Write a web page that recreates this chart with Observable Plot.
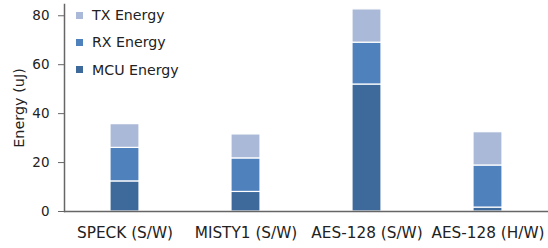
<!DOCTYPE html>
<html>
<head>
<meta charset="utf-8">
<script src="https://cdn.jsdelivr.net/npm/d3@7"></script>
<script src="https://cdn.jsdelivr.net/npm/@observablehq/plot@0.6"></script>
<style>
  html, body { margin: 0; padding: 0; background: #fff; }
  #wrap { position: relative; width: 548px; height: 248px; font-family: "DejaVu Sans", sans-serif; }
  #legend { position: absolute; left: 76px; top: 1.5px; font-size: 14.2px; color: #222; }
  #legend .row { height: 27.3px; display: flex; align-items: center; }
  #legend .sw { width: 7px; height: 7px; margin-right: 9px; }
</style>
</head>
<body>
<div id="wrap"></div>
<script>
const categories = ["SPECK (S/W)", "MISTY1 (S/W)", "AES-128 (S/W)", "AES-128 (H/W)"];
const series = ["MCU Energy", "RX Energy", "TX Energy"];
const mcu = [12.3, 8.0, 51.9, 1.6];
const rx = [13.7, 13.7, 17.1, 17.2];
const tx = [9.7, 9.8, 13.6, 13.6];
const colors = ["#3e6a9b", "#4f81bd", "#aab9d7"];
const yTicks = [0, 20, 40, 60, 80];
const yLabel = "Energy (uJ)";

const values = [mcu, rx, tx];
const data = [];
categories.forEach((c, i) => {
  series.forEach((s, j) => data.push({category: c, series: s, value: values[j][i]}));
});

const chart = Plot.plot({
  width: 548,
  height: 248,
  marginLeft: 64,
  marginRight: 0,
  marginTop: 4,
  marginBottom: 37,
  style: {fontFamily: "DejaVu Sans, sans-serif", fontSize: "13px", color: "#222"},
  x: {domain: categories, paddingInner: 0.76, paddingOuter: 0.38, label: null},
  y: {domain: [0, 84.6], label: null},
  color: {domain: series, range: colors},
  marks: [
    Plot.barY(data, {x: "category", y: "value", fill: "series", stroke: "white", strokeWidth: 1.2}),
    Plot.axisY({ticks: yTicks, tickSize: 6, tickPadding: 9, stroke: "#666", fontSize: 13.5, label: null}),
    Plot.axisX({tickSize: 0, tickPadding: 16, label: null, fontSize: 15.3}),
    Plot.text([yLabel], {text: d => d, frameAnchor: "left", rotate: -90, dx: -45, fontSize: 14.4, fill: "#222", textAnchor: "middle"}),
    Plot.ruleY([0], {stroke: "#666", strokeWidth: 1.5}),
    Plot.frame({anchor: "left", stroke: "#666", strokeWidth: 1.5})
  ]
});

const wrap = document.getElementById("wrap");
wrap.appendChild(chart);
const legend = document.createElement("div");
legend.id = "legend";
[2, 1, 0].forEach(j => {
  const row = document.createElement("div");
  row.className = "row";
  const sw = document.createElement("span");
  sw.className = "sw";
  sw.style.background = colors[j];
  const t = document.createElement("span");
  t.textContent = series[j];
  row.appendChild(sw);
  row.appendChild(t);
  legend.appendChild(row);
});
wrap.appendChild(legend);
</script>
</body>
</html>
